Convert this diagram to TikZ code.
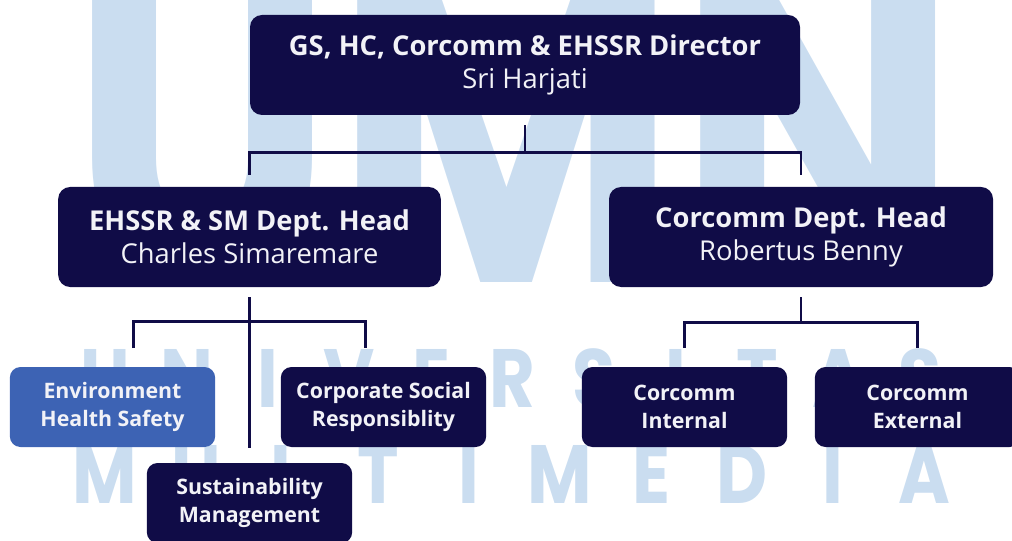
\documentclass[tikz,border=0pt]{standalone}
\usepackage{fontspec}
\setmainfont{Open Sans}
\newfontfamily\wmfont[FakeStretch=0.85]{Poppins}
\usetikzlibrary{positioning}

\definecolor{navy}{HTML}{100C47}
\definecolor{ehsblue}{HTML}{3D63B4}
\definecolor{wmblue}{HTML}{CADDF0}
\definecolor{boxtext}{HTML}{F2F2F7}

\begin{document}
\begin{tikzpicture}[
  x=0.75pt, y=-0.75pt,
  head/.style={rectangle, rounded corners=9pt, fill=navy, text=boxtext,
               minimum height=75pt, align=center,
               font=\fontsize{20.5}{25}\selectfont},
  unit/.style={rectangle, rounded corners=8pt, fill=navy, text=boxtext,
               minimum width=154pt, minimum height=60pt, align=center,
               font=\bfseries\fontsize{16}{21}\selectfont},
  link/.style={draw=navy, line width=2.2pt},
  wm/.style={text=wmblue, font=\wmfont\bfseries\fontsize{62}{62}\selectfont,
             anchor=base, inner sep=0pt}
]
  \useasboundingbox (0,0) rectangle (1012,541);
  \clip (0,0) rectangle (1012,541);

  % Watermark letters in the back
  \node[wm, font=\wmfont\bfseries\fontsize{330}{330}\selectfont] (umn) at (515,282) {UMN};
  \foreach \ch [count=\i from 0] in {U,N,I,V,E,R,S,I,T,A,S}
    \node[wm] (uni\i) at ({105+81.5*\i},407) {\ch};
  \foreach \ch [count=\i from 0] in {M,U,L,T,I,M,E,D,I,A}
    \node[wm] (mm\i) at ({105+91*\i},503) {\ch};

  % Director and department heads
  \node[head, minimum width=412.5pt] (dir) at (525,65)
    {{\bfseries GS, HC, Corcomm \& EHSSR Director}\\Sri Harjati};
  \node[head, minimum width=287pt] (sm) at (249.5,237)
    {{\bfseries EHSSR \& SM Dept. Head}\\Charles Simaremare};
  \node[head, minimum width=288pt] (cc) at (801,237)
    {{\bfseries Corcomm Dept. Head}\\Robertus Benny};

  % Units
  \node[unit, fill=ehsblue] (env) at (112.5,407) {Environment\\Health Safety};
  \node[unit] (csr) at (383.5,407) {Corporate Social\\Responsiblity};
  \node[unit] (sus) at (249.5,503) {Sustainability\\Management};
  \node[unit] (int) at (684.5,407) {Corcomm\\Internal};
  \node[unit] (ext) at (917.5,407) {Corcomm\\External};

  % Director to heads
  \draw[link, shorten <=7.5pt, shorten >=9pt] (dir.south) -- ++(0,37) -| (sm.north);
  \draw[link, shorten <=7.5pt, shorten >=9pt] (dir.south) -- ++(0,37) -| (cc.north);

  % EHSSR & SM branch
  \coordinate (smbar) at ([yshift=-26pt]sm.south);
  \draw[link, shorten <=14pt, shorten >=14pt]
    ([xshift=15.4pt]env.north) |- (smbar) -| ([xshift=-13.5pt]csr.north);
  \draw[link, shorten <=7.5pt, shorten >=11pt] (sm.south) -- (sus.north);

  % Corcomm branch
  \draw[link, shorten <=7.5pt, shorten >=14pt] (cc.south) -- ++(0,35) -| (int.north);
  \draw[link, shorten <=7.5pt, shorten >=14pt] (cc.south) -- ++(0,35) -| (ext.north);
\end{tikzpicture}
\end{document}
